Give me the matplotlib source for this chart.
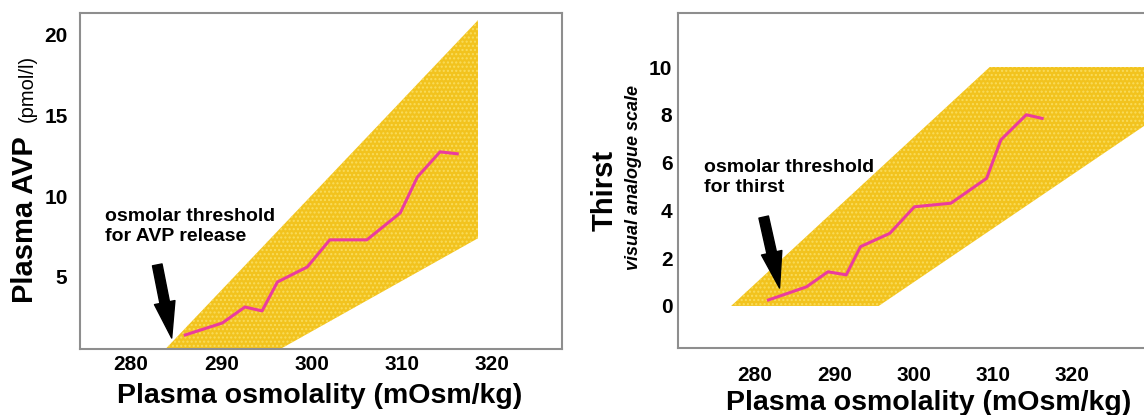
import numpy as np
import matplotlib
matplotlib.use("Agg")
import matplotlib.pyplot as plt

plt.rcParams['font.family'] = ['Liberation Sans', 'DejaVu Sans']
plt.rcParams['hatch.linewidth'] = 1.0

# ---- data ----
# left panel: plasma AVP vs osmolality
avp_osm = [286.0, 290.1, 292.6, 294.5, 296.2, 299.5, 302.0, 306.1, 309.8, 311.7, 314.2, 316.1]
avp_val = [1.41, 2.15, 3.14, 2.90, 4.69, 5.62, 7.30, 7.30, 8.97, 11.2, 12.75, 12.63]
avp_band_osm = [282.9, 318.4, 318.4, 294.8]
avp_band_val = [0.0, 20.9, 7.4, 0.0]
avp_arrow = [(282.9, 5.75), (284.5, 1.22)]   # tail, tip

# right panel: thirst (VAS) vs osmolality
thirst_osm = [281.7, 286.5, 289.2, 291.5, 293.3, 297.0, 300.1, 304.7, 309.2, 311.0, 314.2, 316.2]
thirst_val = [0.25, 0.80, 1.43, 1.30, 2.48, 3.04, 4.15, 4.30, 5.34, 6.95, 8.00, 7.85]
thirst_band_osm = [277.0, 309.6, 340.0, 295.6]
thirst_band_val = [0.0, 10.0, 10.0, 0.0]
thirst_arrow = [(281.1, 3.72), (283.1, 0.75)]

x_ticks = [280, 290, 300, 310, 320]
avp_ticks = [5, 10, 15, 20]
thirst_ticks = [0, 2, 4, 6, 8, 10]

YEL = '#F2C31E'
DOT = '#F9DC5C'
PINK = '#EA3C9E'
FRAME = '#8E8E8E'

W, H = 1144, 415
fig = plt.figure(figsize=(W / 100, H / 100), dpi=100)

def box(l, t, r, b):
    return [l / W, 1 - b / H, (r - l) / W, (b - t) / H]

axL = fig.add_axes(box(80, 13, 562, 349))
axR = fig.add_axes(box(678, 13, 1200, 348))

def style(ax, xpad, ypad):
    for s in ax.spines.values():
        s.set_color(FRAME)
        s.set_linewidth(1.5)
    ax.tick_params(length=0, labelsize=15)
    ax.tick_params(axis='x', pad=xpad)
    ax.tick_params(axis='y', pad=ypad)
    ax.set_xticks(x_ticks)
    for lab in ax.get_xticklabels() + ax.get_yticklabels():
        lab.set_fontweight('bold')

def arrow(ax, tail, tip):
    ax.annotate('', xy=tip, xytext=tail,
                arrowprops=dict(arrowstyle='simple,head_width=1.5,head_length=2.6,tail_width=0.7',
                                mutation_scale=10, color='black', shrinkA=0, shrinkB=0))

# left
axL.fill(avp_band_osm, avp_band_val, facecolor=YEL, edgecolor=DOT, hatch='....', linewidth=0)
axL.plot(avp_osm, avp_val, color=PINK, lw=2.2)
axL.set_xlim(274.35, 327.7)
axL.set_ylim(0.54, 21.35)
axL.set_yticks(avp_ticks)
style(axL, 4, 9)
arrow(axL, *avp_arrow)
axL.text(277.1, 9.25, 'osmolar threshold\nfor AVP release', fontsize=14, fontweight='bold',
         va='top', ha='left', linespacing=1.2)

# right
axR.fill(thirst_band_osm, thirst_band_val, facecolor=YEL, edgecolor=DOT, hatch='....', linewidth=0)
axR.plot(thirst_osm, thirst_val, color=PINK, lw=2.2)
axR.set_xlim(270.3, 336.1)
axR.set_ylim(-1.76, 12.26)
axR.set_yticks(thirst_ticks)
style(axR, 13, 4)
arrow(axR, *thirst_arrow)
axR.text(273.6, 6.15, 'osmolar threshold\nfor thirst', fontsize=14, fontweight='bold',
         va='top', ha='left', linespacing=1.2)

# axis titles
def px(x, y):
    return x / W, 1 - y / H

fig.text(*px(320, 403), 'Plasma osmolality (mOsm/kg)', fontsize=20.5, fontweight='bold',
         ha='center', va='baseline')
fig.text(*px(929, 410), 'Plasma osmolality (mOsm/kg)', fontsize=20.5, fontweight='bold',
         ha='center', va='baseline')
fig.text(*px(33, 303), 'Plasma AVP', fontsize=21, fontweight='bold', rotation=90,
         rotation_mode='anchor', ha='left', va='baseline')
fig.text(*px(33, 122), '(pmol/l)', fontsize=14.5, rotation=90,
         rotation_mode='anchor', ha='left', va='baseline')
fig.text(*px(613, 190), 'Thirst', fontsize=21, fontweight='bold', rotation=90,
         rotation_mode='anchor', ha='center', va='baseline')
fig.text(*px(638, 177), 'visual analogue scale', fontsize=13, fontweight='bold', fontstyle='italic',
         rotation=90, rotation_mode='anchor', ha='center', va='baseline')

fig.savefig('out.png', dpi=100)
